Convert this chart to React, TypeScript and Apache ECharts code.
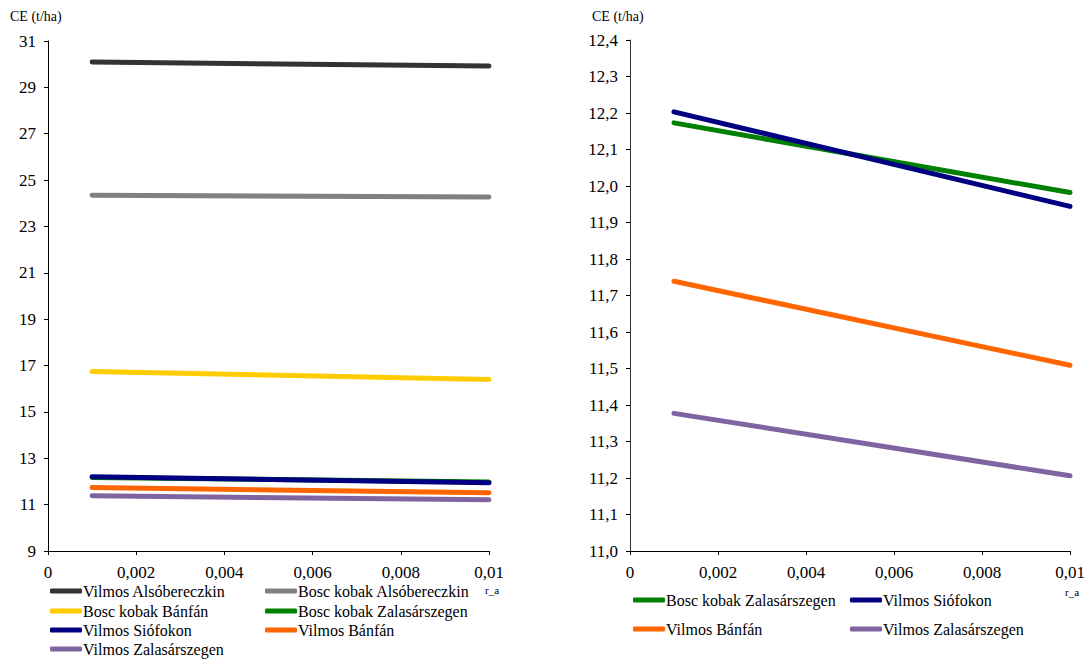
import React, { useEffect, useRef } from "react";
import * as echarts from "echarts";

const xPoints = [0.001, 0.01];

const leftNames = [
  "Vilmos Alsóbereczkin",
  "Bosc kobak Alsóbereczkin",
  "Bosc kobak Bánfán",
  "Bosc kobak Zalasárszegen",
  "Vilmos Siófokon",
  "Vilmos Bánfán",
  "Vilmos Zalasárszegen",
];
const leftColors = ["#333333", "#808080", "#FFCC00", "#008000", "#000080", "#FF6600", "#8064A2"];
const leftValues = [
  [30.09, 29.92],
  [24.35, 24.27],
  [16.74, 16.4],
  [12.17, 11.98],
  [12.2, 11.94],
  [11.74, 11.51],
  [11.38, 11.21],
];

const rightNames = ["Bosc kobak Zalasárszegen", "Vilmos Siófokon", "Vilmos Bánfán", "Vilmos Zalasárszegen"];
const rightColors = ["#008000", "#000080", "#FF6600", "#8064A2"];
const rightValues = [
  [12.173, 11.982],
  [12.203, 11.944],
  [11.739, 11.509],
  [11.377, 11.206],
];

const xTicks = { min: 0, max: 0.01, interval: 0.002 };
const leftY = { min: 9, max: 31, interval: 2 };
const rightY = { min: 11, max: 12.4, interval: 0.1 };

const FONT = "Times New Roman, Liberation Serif, serif";

export default function App() {
  const ref = useRef<HTMLDivElement>(null);
  useEffect(() => {
    const chart = echarts.init(ref.current!, undefined, { renderer: "svg" });
    const xFmt = (v: number) => (v === 0 ? "0" : String(+v.toFixed(4)).replace(".", ","));
    const axisCommon = {
      axisLine: { show: true, lineStyle: { color: "#000", width: 1 } },
      axisTick: { show: true, length: 4, lineStyle: { color: "#000" } },
      splitLine: { show: false },
      axisLabel: { color: "#000", fontFamily: FONT, fontSize: 17 },
    };
    const mkSeries = (names: string[], colors: string[], values: number[][], idx: number) =>
      names.map((n, i) => ({
        name: n,
        type: "line",
        xAxisIndex: idx,
        yAxisIndex: idx,
        data: xPoints.map((x, j) => [x, values[i][j]]),
        symbol: "none",
        color: colors[i],
        lineStyle: { width: 5, color: colors[i], cap: "round" },
      }));
    const legendItem = (name: string, left: number, centerY: number) => ({
      orient: "horizontal",
      icon: "roundRect",
      itemWidth: 32,
      itemHeight: 5,
      left,
      top: centerY - 9,
      padding: 0,
      textStyle: { color: "#000", fontFamily: FONT, fontSize: 16, padding: [0, 0, 0, -4] },
      selectedMode: false,
      data: [name],
    });
    chart.setOption({
      animation: false,
      backgroundColor: "#fff",
      textStyle: { fontFamily: FONT },
      grid: [
        { left: 48, top: 41, width: 441, height: 510 },
        { left: 630, top: 40, width: 440, height: 511 },
      ],
      xAxis: [0, 1].map((g) => ({
        type: "value",
        gridIndex: g,
        ...xTicks,
        ...axisCommon,
        axisLabel: { ...axisCommon.axisLabel, margin: 13, formatter: xFmt },
      })),
      yAxis: [
        {
          type: "value",
          gridIndex: 0,
          ...leftY,
          ...axisCommon,
          axisLabel: { ...axisCommon.axisLabel, margin: 12, formatter: (v: number) => String(v) },
        },
        {
          type: "value",
          gridIndex: 1,
          ...rightY,
          ...axisCommon,
          axisLine: { show: true, lineStyle: { color: "#333", width: 1 } },
          axisLabel: { ...axisCommon.axisLabel, margin: 12, formatter: (v: number) => v.toFixed(1).replace(".", ",") },
        },
      ],
      legend: [
        legendItem(leftNames[0], 50, 592),
        legendItem(leftNames[1], 265, 592),
        legendItem(leftNames[2], 50, 612),
        legendItem(leftNames[3], 265, 612),
        legendItem(leftNames[4], 50, 631),
        legendItem(leftNames[5], 265, 631),
        legendItem(leftNames[6], 50, 650),
        legendItem(rightNames[0], 633, 601),
        legendItem(rightNames[1], 850, 601),
        legendItem(rightNames[2], 633, 630),
        legendItem(rightNames[3], 850, 630),
      ],
      graphic: [
        { type: "text", left: 10, top: 9, style: { text: "CE (t/ha)", fontSize: 14, fontFamily: FONT, fill: "#000" } },
        { type: "text", left: 592, top: 9, style: { text: "CE (t/ha)", fontSize: 14, fontFamily: FONT, fill: "#000" } },
        { type: "text", left: 485, top: 584, style: { text: "r_a", fontSize: 11, fontFamily: FONT, fill: "#000" } },
        { type: "text", left: 1065, top: 586, style: { text: "r_a", fontSize: 11, fontFamily: FONT, fill: "#000" } },
      ],
      series: [...mkSeries(leftNames, leftColors, leftValues, 0), ...mkSeries(rightNames, rightColors, rightValues, 1)],
    });
    return () => chart.dispose();
  }, []);
  return <div ref={ref} style={{ position: "absolute", left: 0, top: 0, width: 1088, height: 659 }} />;
}
